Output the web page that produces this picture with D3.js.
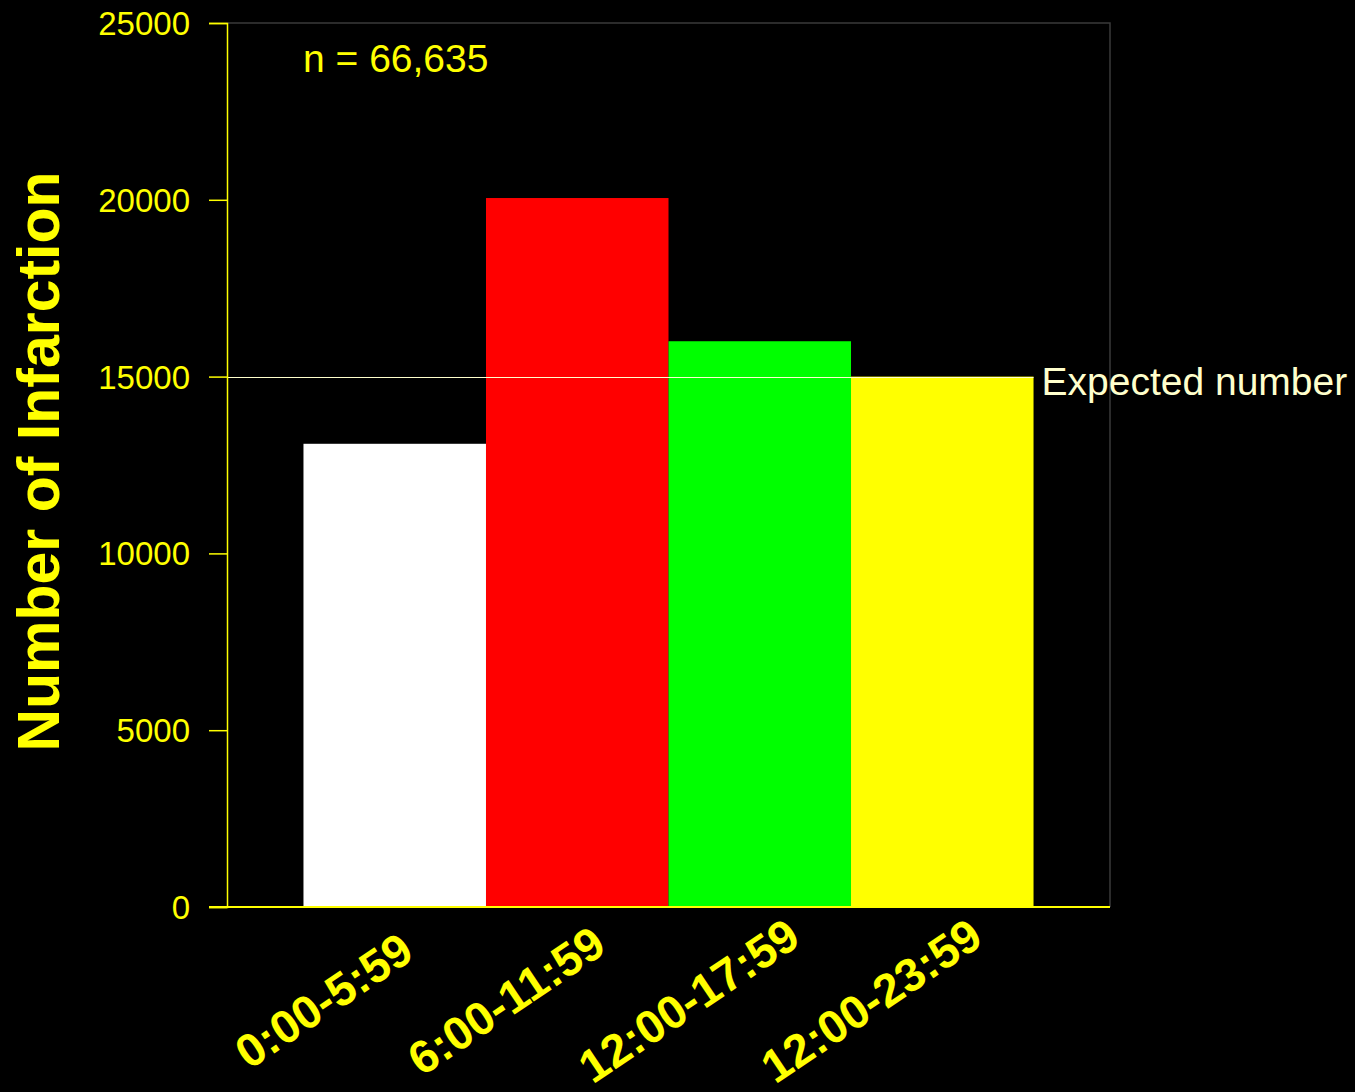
<!DOCTYPE html>
<html>
<head>
<meta charset="utf-8">
<script src="https://cdn.jsdelivr.net/npm/d3@7"></script>
<style>
  html, body { margin: 0; padding: 0; background: #000; }
  svg { display: block; }
  text { font-family: "Liberation Sans", Arial, sans-serif; }
</style>
</head>
<body>
<svg id="chart" width="1355" height="1092"></svg>
<script>
// Infarctions by time of day
const categories = ["0:00-5:59", "6:00-11:59", "12:00-17:59", "12:00-23:59"];
const counts = [13100, 20050, 16000, 15000];
const barColors = ["#ffffff", "#ff0000", "#00ff00", "#ffff00"];
const yTicks = [0, 5000, 10000, 15000, 20000, 25000];
const expectedCount = 15000;
const totalLabel = "n = 66,635";

const W = 1355, H = 1092;
const plot = { left: 227, right: 1110, top: 23, bottom: 907 };

const svg = d3.select("#chart");
svg.append("rect").attr("width", W).attr("height", H).attr("fill", "#000");

const x = d3.scaleBand()
  .domain(categories)
  .range([plot.left, plot.right])
  .paddingInner(0)
  .paddingOuter(0.419);

const y = d3.scaleLinear()
  .domain([0, 25000])
  .range([plot.bottom, plot.top]);

// frame: top and right edges in dark grey
svg.append("path")
  .attr("d", `M${plot.left},${plot.top}H${plot.right}V${plot.bottom}`)
  .attr("fill", "none")
  .attr("stroke", "#3a3a3a")
  .attr("stroke-width", 1.5);

// bars
svg.append("g").selectAll("rect")
  .data(categories)
  .join("rect")
  .attr("x", d => x(d))
  .attr("width", x.bandwidth())
  .attr("y", (d, i) => y(counts[i]))
  .attr("height", (d, i) => y(0) - y(counts[i]))
  .attr("fill", (d, i) => barColors[i]);

// expected-number reference line
const lastCat = categories[categories.length - 1];
svg.append("line")
  .attr("x1", plot.left)
  .attr("x2", x(lastCat) + x.bandwidth())
  .attr("y1", Math.round(y(expectedCount)) + 0.5)
  .attr("y2", Math.round(y(expectedCount)) + 0.5)
  .attr("stroke", "#ffffcc")
  .attr("stroke-width", 1);

svg.append("text")
  .attr("x", x(lastCat) + x.bandwidth() + 8)
  .attr("y", y(expectedCount) + 18)
  .attr("fill", "#ffffcc")
  .attr("font-size", 39)
  .text("Expected number");

// y axis
const yAxis = svg.append("g")
  .attr("transform", `translate(${plot.left},0)`)
  .call(d3.axisLeft(y).tickValues(yTicks).tickSize(18).tickPadding(19).tickFormat(d3.format("d")));
yAxis.select(".domain").attr("stroke", "#ffff00").attr("stroke-width", 1.5);
yAxis.selectAll(".tick line").attr("stroke", "#ffff00").attr("stroke-width", 1.5);
yAxis.selectAll(".tick text")
  .attr("fill", "#ffff00")
  .attr("font-size", 33)
  .attr("font-family", "'Liberation Sans', Arial, sans-serif")
  .attr("dy", "0.35em");

// x axis baseline
svg.append("line")
  .attr("x1", plot.left - 18)
  .attr("x2", plot.right)
  .attr("y1", y(0))
  .attr("y2", y(0))
  .attr("stroke", "#ffff00")
  .attr("stroke-width", 2);

// rotated category labels
svg.append("g").selectAll("text")
  .data(categories)
  .join("text")
  .attr("transform", d => `translate(${x(d) + x.bandwidth() / 2 - 62},${y(0) + 107}) rotate(-34)`)
  .attr("text-anchor", "middle")
  .attr("fill", "#ffff00")
  .attr("font-size", 46.5)
  .attr("font-weight", "bold")
  .text(d => d);

// y axis title
svg.append("text")
  .attr("transform", `translate(59,${(175 + 748) / 2}) rotate(-90)`)
  .attr("text-anchor", "middle")
  .attr("fill", "#ffff00")
  .attr("font-size", 59)
  .attr("font-weight", "bold")
  .text("Number of Infarction");

// sample size note
svg.append("text")
  .attr("x", 303)
  .attr("y", 72)
  .attr("fill", "#ffff00")
  .attr("font-size", 39)
  .text(totalLabel);
</script>
</body>
</html>
